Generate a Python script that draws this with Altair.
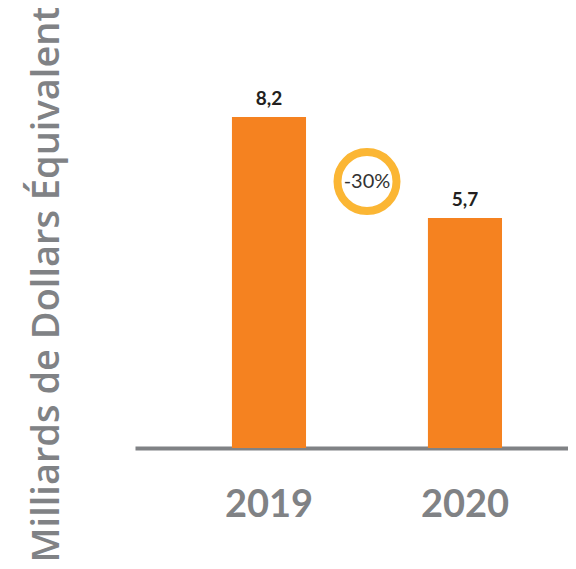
import altair as alt
import pandas as pd

years = ["2019", "2020"]
values = [8.2, 5.7]
value_labels = ["8,2", "5,7"]
change_label = ["-30%"]
change_pos = [0.5]   # midway between the two years (index 0 and 1)
change_y = [6.6]

bars_df = pd.DataFrame({"year": years, "value": values, "label": value_labels})
ann_df = pd.DataFrame({"pos": change_pos, "y": change_y, "label": change_label})

xscale = alt.Scale(domain=years, paddingInner=0.622, paddingOuter=0.4157, align=0.595)
xpos_scale = alt.Scale(domain=[-0.6837, 1.5255], nice=False, zero=False)
yscale = alt.Scale(domain=[0, 10.9], nice=False, zero=True)

GRAY = "#808285"

x_axis = alt.Axis(
    title=None, labelFont="Lato", labelFontSize=38, labelFontWeight="bold",
    labelColor=GRAY, ticks=False, tickSize=0, labelPadding=38, labelBaseline="top",
    domainColor=GRAY, domainWidth=4, grid=False, labelAngle=0,
)
y_axis = alt.Axis(
    title="Milliards de Dollars Équivalent", labels=False, ticks=False, domain=False,
    grid=False, titleFont="Open Sans", titleFontSize=38, titleFontWeight=600,
    titleColor=GRAY, titleX=-88, titleY=276, titleAlign="center",
    titleBaseline="middle", titleAngle=270,
)

base = alt.Chart(bars_df)

bars = base.mark_bar(color="#F58220").encode(
    x=alt.X("year:N", scale=xscale, axis=x_axis, sort=years),
    y=alt.Y("value:Q", scale=yscale, axis=y_axis),
)

labels = base.mark_text(
    font="Lato", fontSize=19, fontWeight="bold", color="#231F20",
    baseline="alphabetic", dy=-12,
).encode(
    x=alt.X("year:N", scale=xscale, sort=years),
    y=alt.Y("value:Q", scale=yscale),
    text="label:N",
)

ann_base = alt.Chart(ann_df)
circle = ann_base.mark_point(
    shape="circle", size=3481, filled=False, stroke="#FBB634", strokeWidth=8,
    fill="white", fillOpacity=1, opacity=1,
).encode(
    x=alt.X("pos:Q", scale=xpos_scale, axis=None),
    y=alt.Y("y:Q", scale=yscale),
)
circle_text = ann_base.mark_text(
    font="Lato", fontSize=20, color="#333333", baseline="middle", align="center",
).encode(
    x=alt.X("pos:Q", scale=xpos_scale, axis=None),
    y=alt.Y("y:Q", scale=yscale),
    text="label:N",
)

bars_layer = alt.layer(bars, labels)
ann_layer = alt.layer(circle, circle_text)

chart = alt.layer(bars_layer, ann_layer).resolve_scale(x="independent").properties(
    width=433, height=440,
    autosize=alt.AutoSizeParams(type="none"),
    padding={"left": 127, "top": 0, "right": 0, "bottom": 113},
).configure_view(stroke=None)

chart.save("out.html", embed_options={"renderer": "svg", "actions": False})
